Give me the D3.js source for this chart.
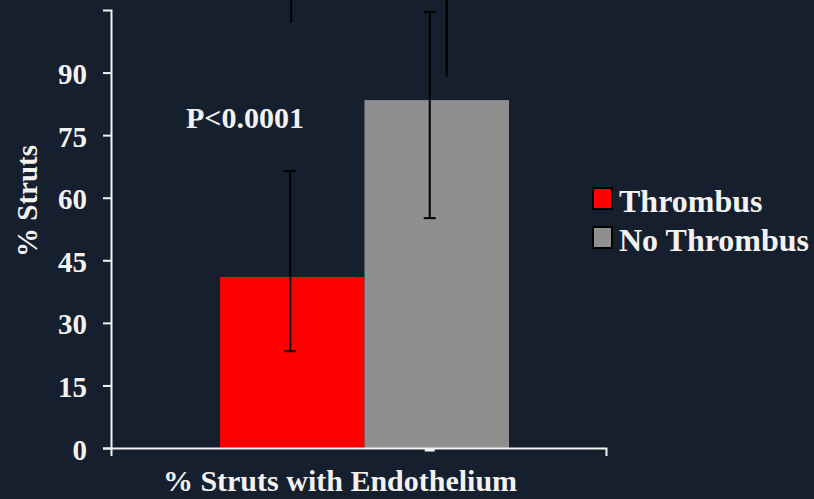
<!DOCTYPE html>
<html>
<head>
<meta charset="utf-8">
<script src="https://cdn.jsdelivr.net/npm/d3@7/dist/d3.min.js"></script>
</head>
<body style="margin:0;padding:0;background:#161f2e">
<svg id="chart" width="814" height="499" style="display:block"></svg>
<script>
// Series and their summary values (% of struts covered with endothelium)
const series = ["Thrombus", "No Thrombus"];
const means = [41.0, 83.4];
const errLow = [23.2, 55.1];
const errHigh = [66.4, 104.5];
// Whiskers of the upper error segments that run past the top of the scale
const whiskerLow = [101.9, 89.0];
const whiskerHigh = [115, 115];
const colors = ["#ff0000", "#8f8f8f"];
const yTicks = [0, 15, 30, 45, 60, 75, 90];
const yMax = 105;
const category = "% Struts with Endothelium";
const yTitle = "% Struts";
const pLabel = "P<0.0001";

const FONT = '"Liberation Serif"';
const INK = "#f2f2f2";
const svg = d3.select("#chart");
const W = 814, H = 499;

svg.append("rect").attr("width", W).attr("height", H).attr("fill", "#161f2e");

const axisLeftX = 111, axisRightX = 606;
const y = d3.scaleLinear().domain([0, yMax]).range([448, 10]);
const x = d3.scaleBand().domain(series).range([220, 509]).paddingInner(0).paddingOuter(0);
const xCat = d3.scaleBand().domain([category]).range([axisLeftX, axisRightX]);

function label(sel, size) {
  return sel.style("font-family", FONT).style("font-weight", "bold")
    .style("font-size", size + "px").attr("fill", INK);
}

// Bars
svg.append("g").selectAll("rect")
  .data(series)
  .join("rect")
  .attr("x", d => x(d))
  .attr("width", x.bandwidth())
  .attr("y", (d, i) => y(means[i]))
  .attr("height", (d, i) => y(0) - y(means[i]))
  .attr("fill", (d, i) => colors[i]);

// Error bars
const errNudge = [-2, -7];
const whiskerNudge = [1, 17];
const cx = (d, i) => x(d) + x.bandwidth() / 2 + errNudge[i];
const capHalf = 6;
const eb = svg.append("g").attr("stroke", "#000").attr("stroke-width", 2);
series.forEach((s, i) => {
  const c = cx(s, i);
  eb.append("line").attr("x1", c).attr("x2", c).attr("y1", y(errLow[i])).attr("y2", y(errHigh[i]));
  eb.append("line").attr("x1", c - capHalf).attr("x2", c + capHalf).attr("y1", y(errLow[i])).attr("y2", y(errLow[i]));
  eb.append("line").attr("x1", c - capHalf).attr("x2", c + capHalf).attr("y1", y(errHigh[i])).attr("y2", y(errHigh[i]));
  const w = c + whiskerNudge[i];
  eb.append("line").attr("x1", w).attr("x2", w).attr("y1", y(whiskerLow[i])).attr("y2", y(whiskerHigh[i]));
});

// Y axis
const yAxis = d3.axisLeft(y).tickValues(yTicks).tickSizeInner(8).tickSizeOuter(8).tickPadding(16);
const gy = svg.append("g").attr("transform", `translate(${axisLeftX},0)`).call(yAxis);
gy.attr("font-family", null);
gy.select(".domain").attr("stroke", INK).attr("stroke-width", 2);
gy.selectAll(".tick line").attr("stroke", INK).attr("stroke-width", 2);
label(gy.selectAll(".tick text"), 29).attr("dy", "0.38em");

// X axis
const xAxis = d3.axisBottom(xCat).tickSizeInner(0).tickSizeOuter(8).tickFormat("");
const gx = svg.append("g").attr("transform", `translate(0,${y(0)})`).call(xAxis);
gx.select(".domain").attr("stroke", INK).attr("stroke-width", 2);
gx.selectAll(".tick").remove();
// small tick beneath the No Thrombus error bar
svg.append("line")
  .attr("x1", cx(series[1], 1) - 5).attr("x2", cx(series[1], 1) + 5)
  .attr("y1", y(0) + 2).attr("y2", y(0) + 2)
  .attr("stroke", INK).attr("stroke-width", 3);

// Axis titles
label(svg.append("text"), 30)
  .attr("x", 340).attr("y", 491)
  .attr("text-anchor", "middle")
  .text(category);

label(svg.append("text"), 29)
  .attr("transform", "translate(37,201) rotate(-90)")
  .attr("text-anchor", "middle")
  .text(yTitle);

// Significance label
label(svg.append("text"), 30)
  .attr("x", 186).attr("y", 128)
  .text(pLabel);

// Legend
const legend = svg.append("g");
series.forEach((s, i) => {
  const ly = 188 + i * 39;
  legend.append("rect")
    .attr("x", 593).attr("y", ly).attr("width", 19).attr("height", 21)
    .attr("fill", colors[i]).attr("stroke", "#000").attr("stroke-width", 2);
  label(legend.append("text"), 32)
    .attr("x", 619).attr("y", ly + 24)
    .text(s);
});
</script>
</body>
</html>
